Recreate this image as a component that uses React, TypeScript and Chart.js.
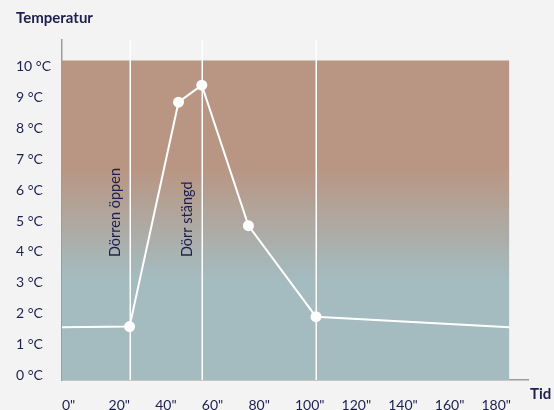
import React, { useEffect, useRef } from "react";
import { Chart, registerables } from "chart.js";

Chart.register(...registerables);

// ---- Data ----
const timeSeconds = [0, 29, 50, 60, 80, 109, 192];
const temperatures = [1.56, 1.58, 8.85, 9.4, 4.85, 1.9, 1.56];
const markerVisible = [false, true, true, true, true, true, false];

const xTickValues = [0, 20, 40, 60, 80, 100, 120, 140, 160, 180];
const yTickValues = [0, 1, 2, 3, 4, 5, 6, 7, 8, 9, 10];

const eventTimes = [29, 60, 109];
const eventLabels = ["Dörren öppen", "Dörr stängd", ""];
const eventLabelLevel = 3.83;

const zoneStart = 0;
const zoneEnd = 192;
const zoneTop = 10.2;

const yTitle = "Temperatur";
const xTitle = "Tid";

// ---- Styles ----
const BG = "#f2f3f2";
const NAVY = "#1d1f4f";
const AXIS = "#9c9c9c";
const BROWN = "#b99683";
const BLUE = "#a4bbbf";
const FONT = "Lato";

const overlayPlugin = {
  id: "overlay",
  afterDatasetDraw(chart: any, args: any) {
    if (args.index !== 0) return;
    const { ctx, chartArea, scales } = chart;
    const xs = scales.x;
    const ys = scales.y;
    ctx.save();
    ctx.strokeStyle = "#ffffff";
    ctx.lineWidth = 1.5;
    eventTimes.forEach((t, i) => {
      const px = Math.round(xs.getPixelForValue(t)) + 0.25;
      ctx.beginPath();
      ctx.moveTo(px, chartArea.top);
      ctx.lineTo(px, chartArea.bottom);
      ctx.stroke();
      const label = eventLabels[i];
      if (label) {
        ctx.save();
        ctx.translate(px - 15, ys.getPixelForValue(eventLabelLevel));
        ctx.rotate(-Math.PI / 2);
        ctx.fillStyle = NAVY;
        ctx.font = `14.5px ${FONT}`;
        ctx.textAlign = "left";
        ctx.textBaseline = "middle";
        ctx.fillText(label, 0, 0);
        ctx.restore();
      }
    });
    ctx.restore();
  },
  afterDraw(chart: any) {
    const { ctx, chartArea } = chart;
    ctx.save();
    ctx.fillStyle = NAVY;
    ctx.font = `bold 15px ${FONT}`;
    ctx.textAlign = "left";
    ctx.textBaseline = "alphabetic";
    ctx.fillText(yTitle, 16, 23);
    ctx.fillText(xTitle, chartArea.right + 2, chartArea.bottom + 19);
    ctx.restore();
  },
};

export default function App() {
  const ref = useRef<HTMLCanvasElement | null>(null);

  useEffect(() => {
    document.body.style.margin = "0";
    document.body.style.background = BG;
    const canvas = ref.current;
    if (!canvas) return;

    const zoneFill = (context: any) => {
      const { chart } = context;
      const area = chart.chartArea;
      if (!area) return BROWN;
      const ys = chart.scales.y;
      const top = ys.getPixelForValue(zoneTop);
      const bottom = area.bottom;
      const g = chart.ctx.createLinearGradient(0, top, 0, bottom);
      g.addColorStop(0, BROWN);
      g.addColorStop(0.34, BROWN);
      g.addColorStop(0.68, BLUE);
      g.addColorStop(1, BLUE);
      return g;
    };

    const chart = new Chart(canvas, {
      type: "line",
      data: {
        datasets: [
          {
            data: [
              { x: zoneStart, y: zoneTop },
              { x: zoneEnd, y: zoneTop },
            ],
            order: 2,
            borderWidth: 0,
            borderColor: "rgba(0,0,0,0)",
            pointRadius: 0,
            fill: "start",
            backgroundColor: zoneFill,
          },
          {
            data: timeSeconds.map((t, i) => ({ x: t, y: temperatures[i] })),
            order: 1,
            borderColor: "#ffffff",
            borderWidth: 2,
            pointRadius: markerVisible.map((v) => (v ? 5.5 : 0)),
            pointHoverRadius: markerVisible.map((v) => (v ? 5.5 : 0)),
            pointBackgroundColor: "#ffffff",
            pointBorderColor: "#ffffff",
            pointBorderWidth: 0,
            fill: false,
            tension: 0,
          },
        ],
      },
      options: {
        responsive: false,
        animation: false,
        events: [],
        layout: { padding: { left: 16, top: 40, right: 26, bottom: 0 } },
        plugins: {
          legend: { display: false },
          tooltip: { enabled: false },
          title: { display: false },
        },
        scales: {
          x: {
            type: "linear",
            min: 0,
            max: 200,
            afterBuildTicks: (scale: any) => {
              scale.ticks = xTickValues.map((v) => ({ value: v }));
            },
            afterFit: (scale: any) => {
              scale.height = 30;
            },
            grid: { display: false, drawTicks: false },
            border: { display: true, color: AXIS, width: 1.5 },
            ticks: {
              autoSkip: false,
              maxRotation: 0,
              align: "start",
              padding: 17,
              color: NAVY,
              font: { family: FONT, size: 14 },
              callback: (v: any) => `${v}"`,
            },
          },
          y: {
            type: "linear",
            min: -0.152,
            max: 10.865,
            afterBuildTicks: (scale: any) => {
              scale.ticks = yTickValues.map((v) => ({ value: v }));
            },
            afterFit: (scale: any) => {
              scale.width = 46;
            },
            grid: { display: false, drawTicks: false },
            border: { display: true, color: AXIS, width: 1.5 },
            ticks: {
              crossAlign: "far",
              padding: 8,
              color: NAVY,
              font: { family: FONT, size: 14 },
              callback: (v: any) => `${v} °C`,
            },
          },
        },
      },
      plugins: [overlayPlugin],
    } as any);

    return () => chart.destroy();
  }, []);

  return (
    <div style={{ width: 554, height: 410, background: BG, overflow: "hidden" }}>
      <canvas ref={ref} width={554} height={410} style={{ display: "block" }} />
    </div>
  );
}
